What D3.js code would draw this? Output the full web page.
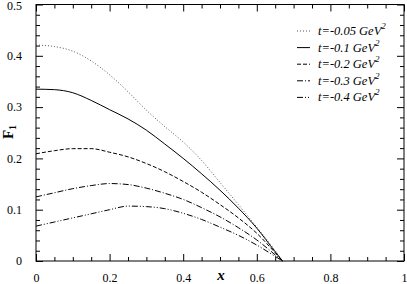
<!DOCTYPE html>
<html>
<head>
<meta charset="utf-8">
<script src="https://cdn.jsdelivr.net/npm/d3@7"></script>
<style>
  body { margin: 0; background: #fff; }
  svg { display: block; }
  svg text { font-family: "Liberation Serif", "Times New Roman", Times, serif; }
</style>
</head>
<body>
<svg id="chart" width="407" height="284"></svg>
<script>
"use strict";

// x grid the curves were read at
var xs = [0, 0.05, 0.1, 0.15, 0.2, 0.25, 0.3, 0.35, 0.4, 0.45, 0.5, 0.55, 0.6, 0.65, 0.67];

// F1 values for each t
var f_t005 = [0.421, 0.418, 0.409, 0.39, 0.363, 0.33, 0.294, 0.262, 0.232, 0.196, 0.153, 0.11, 0.066, 0.02, 0];
var f_t01  = [0.335, 0.334, 0.328, 0.313, 0.295, 0.277, 0.255, 0.228, 0.2, 0.17, 0.138, 0.103, 0.064, 0.018, 0];
var f_t02  = [0.209, 0.215, 0.219, 0.219, 0.212, 0.203, 0.19, 0.174, 0.155, 0.134, 0.11, 0.084, 0.054, 0.016, 0];
var f_t03  = [0.125, 0.133, 0.141, 0.147, 0.151, 0.149, 0.142, 0.132, 0.12, 0.104, 0.086, 0.065, 0.041, 0.012, 0];
var f_t04  = [0.068, 0.076, 0.084, 0.092, 0.1, 0.107, 0.106, 0.102, 0.093, 0.081, 0.066, 0.05, 0.031, 0.009, 0];

var t_labels = ['-0.05', '-0.1', '-0.2', '-0.3', '-0.4'];
var x_ticks = [0, 0.2, 0.4, 0.6, 0.8, 1];
var y_ticks = [0, 0.1, 0.2, 0.3, 0.4, 0.5];

function draw() {
  var d3 = window.d3;
  var svg = d3.select('#chart');
  const m = {top: 4.5, right: 3, bottom: 23, left: 36};
  const W = 407, H = 284;
  const w = W - m.left - m.right, h = H - m.top - m.bottom;

  var g = svg.append('g').attr('transform', 'translate(' + m.left + ',' + m.top + ')');

  var sx = d3.scaleLinear().domain([0, 1]).range([0, w]);
  var sy = d3.scaleLinear().domain([0, 0.5]).range([h, 0]);

  var major = 7, minor = 4;
  var xminor = d3.range(0, 1.0001, 0.05).filter(v => Math.abs(v * 5 - Math.round(v * 5)) > 1e-6);
  var yminor = d3.range(0, 0.5001, 0.02).filter(v => Math.abs(v * 10 - Math.round(v * 10)) > 1e-6);

  function style_axis(sel) {
    sel.attr('font-family', null);
    sel.select('.domain').remove();
    sel.selectAll('line').attr('stroke', '#000').attr('stroke-width', 1);
    sel.selectAll('text').attr('font-size', 12).attr('fill', '#000');
  }

  // bottom & top, majors then minors (ticks inward)
  g.append('g').attr('transform', 'translate(0,' + h + ')')
    .call(d3.axisBottom(sx).tickValues(x_ticks).tickFormat(d3.format('')).tickSizeInner(-major).tickPadding(12))
    .call(style_axis);
  g.append('g').attr('transform', 'translate(0,' + h + ')')
    .call(d3.axisBottom(sx).tickValues(xminor).tickFormat('').tickSizeInner(-minor))
    .call(style_axis);
  g.append('g')
    .call(d3.axisTop(sx).tickValues(x_ticks).tickFormat('').tickSizeInner(-major))
    .call(style_axis);
  g.append('g')
    .call(d3.axisTop(sx).tickValues(xminor).tickFormat('').tickSizeInner(-minor))
    .call(style_axis);

  // left & right
  var yax = g.append('g')
    .call(d3.axisLeft(sy).tickValues(y_ticks).tickFormat(d3.format('')).tickSizeInner(-major).tickPadding(14))
    .call(style_axis);
  // keep the top label inside the picture
  yax.selectAll('text').filter(d => d === 0.5).attr('dy', '0.45em');
  g.append('g')
    .call(d3.axisLeft(sy).tickValues(yminor).tickFormat('').tickSizeInner(-minor))
    .call(style_axis);
  g.append('g').attr('transform', 'translate(' + w + ',0)')
    .call(d3.axisRight(sy).tickValues(y_ticks).tickFormat('').tickSizeInner(-major))
    .call(style_axis);
  g.append('g').attr('transform', 'translate(' + w + ',0)')
    .call(d3.axisRight(sy).tickValues(yminor).tickFormat('').tickSizeInner(-minor))
    .call(style_axis);

  // frame
  g.append('rect').attr('width', w).attr('height', h)
    .attr('fill', 'none').attr('stroke', '#000').attr('stroke-width', 1);

  var series = [
    {vals: f_t005, dash: '1,2', col: '#555', t: t_labels[0]},
    {vals: f_t01,  dash: null, col: '#000', t: t_labels[1]},
    {vals: f_t02,  dash: '4,2', col: '#000', t: t_labels[2]},
    {vals: f_t03,  dash: '6,2,1,2', col: '#000', t: t_labels[3]},
    {vals: f_t04,  dash: '6,2,1,2,1,2', col: '#000', t: t_labels[4]}
  ];

  var line = d3.line().x(d => sx(d[0])).y(d => sy(d[1])).curve(d3.curveMonotoneX);

  series.forEach(s => {
    g.append('path')
      .datum(xs.map((x, i) => [x, s.vals[i]]))
      .attr('d', line)
      .attr('fill', 'none')
      .attr('stroke', s.col)
      .attr('stroke-width', 1)
      .attr('stroke-dasharray', s.dash);
  });

  // legend
  var leg = svg.append('g').attr('transform', 'translate(297, 31)');
  series.forEach((s, i) => {
    var row = leg.append('g').attr('transform', 'translate(0,' + (i * 16.6) + ')');
    row.append('line').attr('x1', 0).attr('x2', 13).attr('y1', 0).attr('y2', 0)
      .attr('stroke', s.col).attr('stroke-dasharray', s.dash);
    var txt = row.append('text').attr('x', 21).attr('y', 4)
      .attr('font-size', 12.5).attr('font-style', 'italic');
    txt.append('tspan').text('t=' + s.t + ' GeV');
    txt.append('tspan').attr('dy', -6).attr('font-size', 9).text('2');
  });

  // axis titles
  svg.append('text').attr('x', m.left + w / 2 + 1).attr('y', 280)
    .attr('text-anchor', 'middle').attr('font-size', 15)
    .attr('font-weight', 'bold').attr('font-style', 'italic').text('x');

  var yl = svg.append('text').attr('transform', 'translate(13,132) rotate(-90)')
    .attr('text-anchor', 'middle').attr('font-size', 15).attr('font-weight', 'bold');
  yl.append('tspan').text('F');
  yl.append('tspan').attr('dy', 3).attr('font-size', 10).text('1');
}

draw();
</script>
</body>
</html>
